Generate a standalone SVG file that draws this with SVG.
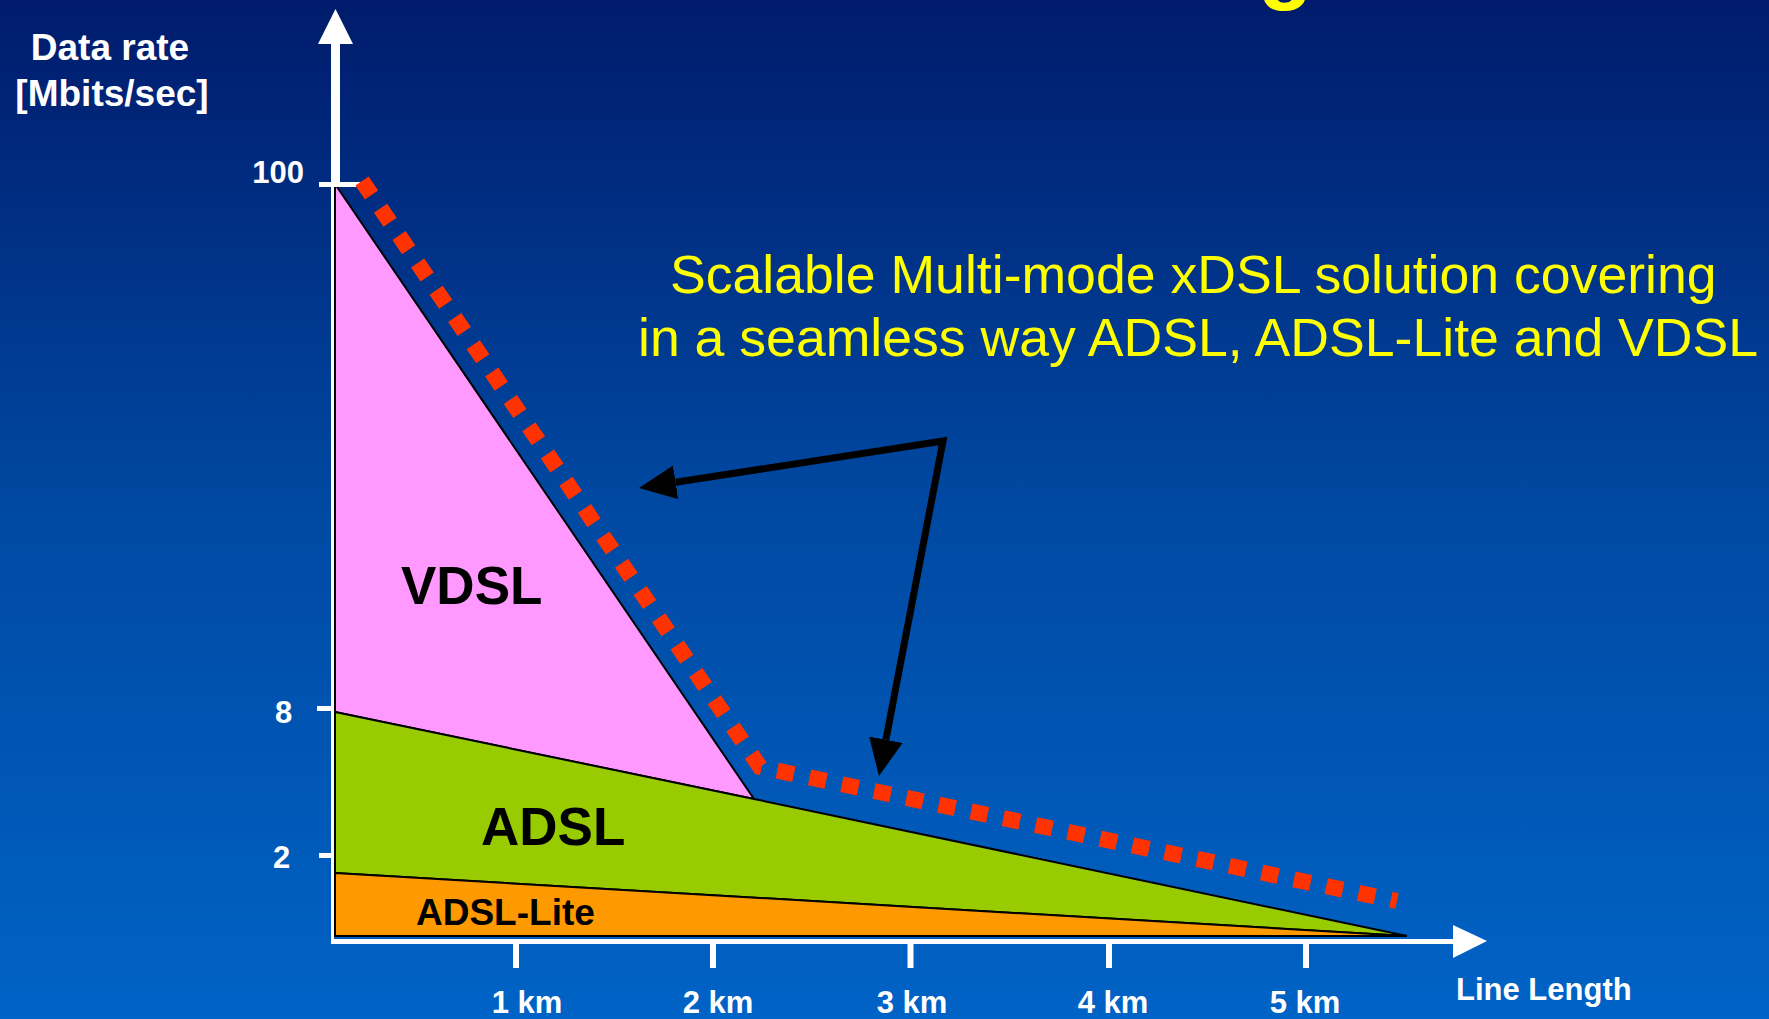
<svg xmlns="http://www.w3.org/2000/svg" width="1769" height="1019" viewBox="0 0 1769 1019">
  <defs>
    <linearGradient id="bg" x1="0" y1="0" x2="0" y2="1">
      <stop offset="0" stop-color="#001B6C"/>
      <stop offset="0.5" stop-color="#0049A2"/>
      <stop offset="1" stop-color="#0063C6"/>
    </linearGradient>
    <marker id="blackHead" markerUnits="userSpaceOnUse" markerWidth="40" markerHeight="36" refX="0" refY="18" orient="auto-start-reverse" viewBox="0 0 40 36">
      <path d="M0,1 L37,18 L0,35 Z" fill="#000"/>
    </marker>
    <style>
      .axis { fill: #FFFFFF; }
      .lbl { font-family: "Liberation Sans", Arial, sans-serif; font-weight: bold; fill: #FFFFFF; }
      .tick { font-size: 31px; }
      .band { stroke: #000; stroke-width: 2; stroke-linejoin: miter; }
      .bandLbl { font-family: "Liberation Sans", Arial, sans-serif; font-weight: bold; fill: #000; }
      .note { font-family: "Liberation Sans", Arial, sans-serif; font-size: 53.6px; fill: #FFFF00; }
    </style>
  </defs>

  <!-- background -->
  <rect x="0" y="0" width="1769" height="1019" fill="url(#bg)"/>

  <!-- descender of the heading that runs above the frame -->
  <text x="1258" y="-8" font-family="Liberation Sans, Arial, sans-serif" font-weight="bold" font-size="90" fill="#FFFF00">g</text>

  <!-- rate bands -->
  <g id="vdsl">
    <polygon class="band" points="335,184 754,799 335,712" fill="#FF99FF"/>
    <text class="bandLbl" x="401" y="604" font-size="53">VDSL</text>
  </g>
  <g id="adsl">
    <polygon class="band" points="335,712 754,799 1407,936 335,873" fill="#99CC00"/>
    <text class="bandLbl" x="481" y="845" font-size="53">ADSL</text>
  </g>
  <g id="adsl-lite">
    <polygon class="band" points="335,873 1407,936 335,936" fill="#FF9900"/>
    <text class="bandLbl" x="416" y="925" font-size="37">ADSL-Lite</text>
  </g>

  <!-- axes -->
  <g id="y-axis">
    <rect class="axis" x="331" y="40" width="9" height="146"/>
    <rect class="axis" x="331" y="184" width="3" height="760"/>
    <polygon class="axis" points="335.5,9 353,44 318,44"/>
    <rect class="axis" x="319" y="182" width="47" height="5"/>
    <rect class="axis" x="317" y="706" width="16" height="5"/>
    <rect class="axis" x="319" y="853" width="14" height="5"/>
    <text class="lbl tick" x="304" y="183" text-anchor="end">100</text>
    <text class="lbl tick" x="275" y="723">8</text>
    <text class="lbl tick" x="273" y="868">2</text>
    <text class="lbl" x="110" y="60" font-size="37" text-anchor="middle">Data rate</text>
    <text class="lbl" x="112" y="106" font-size="37" text-anchor="middle">[Mbits/sec]</text>
  </g>
  <g id="x-axis">
    <rect class="axis" x="331" y="939" width="1124" height="5"/>
    <polygon class="axis" points="1487,941 1453,925 1453,958"/>
    <rect class="axis" x="513" y="943" width="6" height="25"/>
    <rect class="axis" x="710" y="943" width="6" height="25"/>
    <rect class="axis" x="907.5" y="943" width="6" height="25"/>
    <rect class="axis" x="1106" y="943" width="6" height="25"/>
    <rect class="axis" x="1303" y="943" width="6" height="25"/>
    <text class="lbl tick" x="527" y="1013" text-anchor="middle">1 km</text>
    <text class="lbl tick" x="718" y="1013" text-anchor="middle">2 km</text>
    <text class="lbl tick" x="912" y="1013" text-anchor="middle">3 km</text>
    <text class="lbl tick" x="1113" y="1013" text-anchor="middle">4 km</text>
    <text class="lbl tick" x="1305" y="1013" text-anchor="middle">5 km</text>
    <text class="lbl tick" x="1456" y="1000">Line Length</text>
  </g>

  <!-- callout text -->
  <g id="callout">
    <text class="note" x="670" y="293">Scalable Multi-mode xDSL solution covering</text>
    <text class="note" x="638" y="356">in a seamless way ADSL, ADSL-Lite and VDSL</text>
  </g>

  <!-- connectors: multi-mode envelope and pointer arrows -->
  <g id="connectors">
    <path id="envelope" d="M362,181 L760,767 L1397,901" fill="none" stroke="#FF3300" stroke-width="16" stroke-dasharray="17 16"/>
    <path id="pointers" d="M675.6,482.3 L943,441 L885.9,739.7" fill="none" stroke="#000" stroke-width="7" stroke-linejoin="miter" marker-start="url(#blackHead)" marker-end="url(#blackHead)"/>
  </g>
</svg>
